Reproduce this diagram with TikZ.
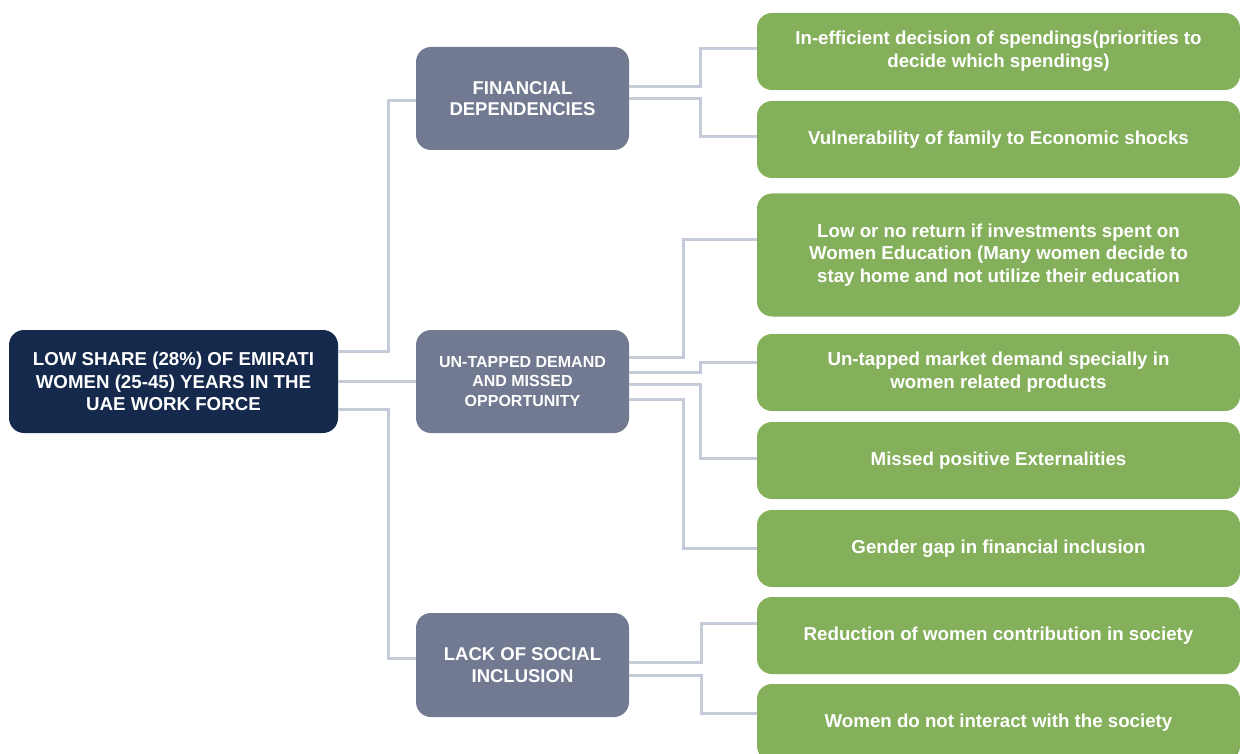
\documentclass[tikz,border=0pt]{standalone}
\usepackage{fontspec}
\setmainfont{Liberation Sans}
\usetikzlibrary{calc}

\definecolor{navy}{HTML}{14294B}
\definecolor{slate}{HTML}{727A91}
\definecolor{leaf}{HTML}{85B05B}
\definecolor{wire}{HTML}{C6CBDA}

\tikzset{
  box/.style={rounded corners=15pt, text=white, align=center, inner sep=0pt,
    font=\bfseries\fontsize{18.7}{22.8}\selectfont},
  rootbox/.style={box, fill=navy, minimum width=329pt, minimum height=103pt},
  midbox/.style={box, fill=slate, minimum width=213pt, minimum height=103pt,
    font=\bfseries\fontsize{18.5}{21.5}\selectfont},
  leafbox/.style={box, fill=leaf, minimum width=483pt, minimum height=77pt},
  link/.style={draw=wire, line width=3pt}
}

\begin{document}
\begin{tikzpicture}[x=1pt, y=-1pt]

    \useasboundingbox (0,0) rectangle (1240,754);
    \clip (0,0) rectangle (1240,754);

    % Root
    \node[rootbox] (root) at (173.5, 381.5) {LOW SHARE (28\%) OF EMIRATI\\ WOMEN (25-45) YEARS IN THE\\ UAE WORK FORCE};

    % Middle level
    \node[midbox] (fin) at (522.5, 98.5) {FINANCIAL\\ DEPENDENCIES};
    \node[midbox, font=\bfseries\fontsize{16}{19.5}\selectfont] (unt) at (522.5, 381.5) {UN-TAPPED DEMAND\\ AND MISSED\\ OPPORTUNITY};
    \node[midbox, minimum height=104pt] (lack) at (522.5, 665) {LACK OF SOCIAL\\ INCLUSION};

    % Effects
    \node[leafbox] (g1) at (998.5, 51.5) {In-efficient decision of spendings(priorities to\\ decide which spendings)};
    \node[leafbox] (g2) at (998.5, 139.5) {Vulnerability of family to Economic shocks};
    \node[leafbox, minimum height=123pt] (g3) at (998.5, 255) {Low or no return if investments spent on\\ Women Education (Many women decide to\\ stay home and not utilize their education};
    \node[leafbox] (g4) at (998.5, 372.5) {Un-tapped market demand specially in\\ women related products};
    \node[leafbox] (g5) at (998.5, 460.5) {Missed positive Externalities};
    \node[leafbox] (g6) at (998.5, 548.5) {Gender gap in financial inclusion};
    \node[leafbox] (g7) at (998.5, 635.5) {Reduction of women contribution in society};
    \node[leafbox] (g8) at (998.5, 722.5) {Women do not interact with the society};

    % Links root -> middle
    \draw[link] ($(root.east)+(0,-30.5)$) -- ++(50,0) |- ($(fin.west)+(0,2.5)$);
    \draw[link] (root.east) -- (unt.west);
    \draw[link] ($(root.east)+(0,27.5)$) -- ++(50,0) |- ($(lack.west)+(0,-7)$);

    % Links middle -> effects
    \draw[link] ($(fin.east)+(0,-11.5)$) -- ++(71,0) |- ($(g1.west)+(0,-2.5)$);
    \draw[link] ($(fin.east)+(0,0.5)$) -- ++(71,0) |- ($(g2.west)+(0,-2.5)$);

    \draw[link] ($(unt.east)+(0,-24.5)$) -- ++(54,0) |- ($(g3.west)+(0,-15)$);
    \draw[link] ($(unt.east)+(0,-9.5)$) -- ++(71,0) |- ($(g4.west)+(0,-10.5)$);
    \draw[link] ($(unt.east)+(0,2.5)$) -- ++(71,0) |- ($(g5.west)+(0,-2.5)$);
    \draw[link] ($(unt.east)+(0,17.5)$) -- ++(54,0) |- (g6.west);

    \draw[link] ($(lack.east)+(0,-3)$) -- ++(72,0) |- ($(g7.west)+(0,-12.5)$);
    \draw[link] ($(lack.east)+(0,10)$) -- ++(72,0) |- ($(g8.west)+(0,-9.5)$);

\end{tikzpicture}
\end{document}
